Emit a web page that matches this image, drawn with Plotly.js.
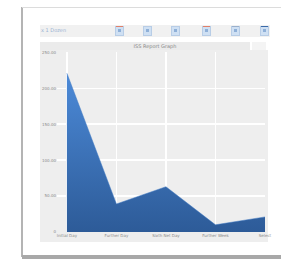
<!DOCTYPE html>
<html><head><meta charset="utf-8">
<script src="https://cdn.plot.ly/plotly-3.0.1.min.js"></script>
<style>
html,body{margin:0;padding:0;background:#fff;width:281px;height:259px;overflow:hidden;font-family:"DejaVu Sans",sans-serif;}
.abs{position:absolute;}
#frameL{left:21px;top:7px;width:2px;height:250px;background:#b4b4b4;}
#frameT{left:22px;top:7px;width:259px;height:1px;background:#dcdcdc;}
#frameB{left:22px;top:255px;width:259px;height:4px;background:#a8a8a8;}
#toolbar{left:40px;top:25px;width:230px;height:12px;background:#f1f1f1;}
#tbtext{left:41px;top:27px;font-size:5px;color:#9ab3d3;}
.btn{position:absolute;top:26px;width:7px;height:8px;background:#cfe0f3;border:1px solid #b8cde6;}
.btn .mk{position:absolute;left:0;top:-1px;width:7px;height:1px;}
.btn .ic{position:absolute;left:2px;top:2px;width:3px;height:3px;background:#8fb0d8;}
#titlebar{left:40px;top:42px;width:210px;height:8px;background:#ebebeb;}
#titletext{left:40px;top:43px;width:230px;text-align:center;font-size:5px;color:#888;}
#close{left:252px;top:42px;width:14px;height:8px;background:#f4f4f4;}
#chartbg{left:40px;top:50px;width:228px;height:192px;background:#eeeeee;}
#chart{left:40px;top:44px;width:240px;height:198px;}
</style></head>
<body>
<div id="frameL" class="abs"></div>
<div id="frameT" class="abs"></div>
<div id="frameB" class="abs"></div>
<div id="toolbar" class="abs"></div>
<div id="tbtext" class="abs">x 1 Dozen</div>
<div class="btn" style="left:115px"><div class="mk" style="background:#e0806a"></div><div class="ic"></div></div>
<div class="btn" style="left:143px"><div class="ic"></div></div>
<div class="btn" style="left:171px"><div class="ic"></div></div>
<div class="btn" style="left:202px"><div class="mk" style="background:#e0806a"></div><div class="ic"></div></div>
<div class="btn" style="left:231px"><div class="mk" style="background:#9ab0cc"></div><div class="ic"></div></div>
<div class="btn" style="left:260px"><div class="mk" style="background:#3a6aa8"></div><div class="ic"></div></div>
<div id="titlebar" class="abs"></div>
<div id="titletext" class="abs">ISS Report Graph</div>
<div id="close" class="abs"></div>
<div id="chartbg" class="abs"></div>
<div id="chart" class="abs"></div>
<script>
const categories = ["Initial Day", "Further Day", "Sixth Net Day", "Further Week", "Select"];
const values = [221, 39, 63, 10, 21];
const yTickVals = [0, 50, 100, 150, 200, 250];
const yTickText = ["0", "50.00", "100.00", "150.00", "200.00", "250.00"];

const trace = {
  x: categories,
  y: values,
  type: "scatter",
  mode: "lines",
  fill: "tozeroy",
  fillcolor: "#3b73bb",
  fillgradient: {type: "vertical", colorscale: [[0, "#2d5b98"], [1, "#4c8ad8"]]},
  line: {color: "#3f78c2", width: 0.5},
  hoverinfo: "skip"
};

const layout = {
  width: 240, height: 198,
  margin: {l: 17, r: 15, t: 8, b: 10},
  paper_bgcolor: "rgba(0,0,0,0)",
  plot_bgcolor: "#eeeeee",
  showlegend: false,
  font: {family: "DejaVu Sans", size: 4, color: "#8a8a8a"},
  xaxis: {
    type: "category",
    range: [-0.2, 4],
    showgrid: true, gridcolor: "#ffffff", gridwidth: 1.5,
    zeroline: false, showline: false, ticks: "",
    tickfont: {size: 4, color: "#8a8a8a"},
    fixedrange: true
  },
  yaxis: {
    range: [0, 250.5],
    tickvals: yTickVals, ticktext: yTickText,
    showgrid: true, gridcolor: "#ffffff", gridwidth: 1.5,
    zeroline: false, showline: false, ticks: "",
    tickfont: {size: 4, color: "#8a8a8a"},
    fixedrange: true
  }
};

Plotly.newPlot("chart", [trace], layout, {displayModeBar: false, staticPlot: true});
</script>
</body></html>
